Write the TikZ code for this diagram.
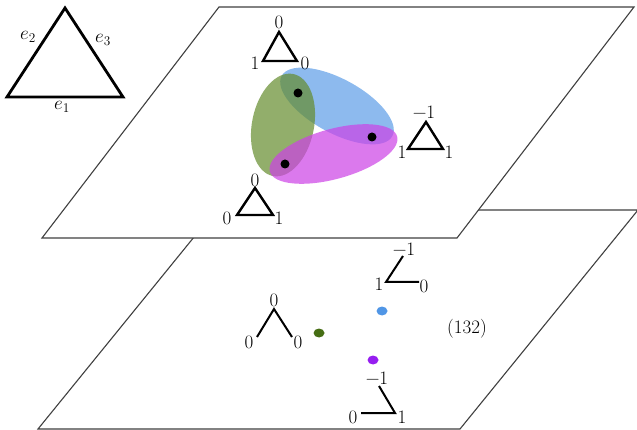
\RequirePackage{fix-cm}
\documentclass[tikz,border=0pt]{standalone}
\usepackage{fontspec}
\setmainfont{Latin Modern Roman}
\begin{document}
\begin{tikzpicture}[x=1pt,y=-1pt,
  plane/.style={draw=black!75,line width=1.1pt,fill=white},
  tri/.style={draw=black,line width=2.4pt,line join=miter},
  ang/.style={draw=black,line width=2pt},
  lbl/.style={inner sep=0pt,font=\fontsize{19}{22}\selectfont},
  dot/.style={fill=black},
]
\definecolor{gG}{RGB}{100,140,45}
\definecolor{gB}{RGB}{80,150,230}
\definecolor{gM}{RGB}{205,65,230}
\definecolor{dG}{RGB}{70,110,20}
\definecolor{dB}{RGB}{80,150,230}
\definecolor{dP}{RGB}{150,30,240}
\useasboundingbox (0,0) rectangle (637,430);

% bottom plane
\coordinate (b1) at (216,210); \coordinate (b2) at (638,210);
\coordinate (b3) at (460,429); \coordinate (b4) at (38,429);
\draw[plane] (b1) -- (b2) -- (b3) -- (b4) -- cycle;
% top plane
\coordinate (t1) at (219,7); \coordinate (t2) at (634,7);
\coordinate (t3) at (457,238); \coordinate (t4) at (42,238);
\draw[plane] (t1) -- (t2) -- (t3) -- (t4) -- cycle;

% big triangle
\coordinate (A) at (65,8); \coordinate (B) at (7,97); \coordinate (C) at (123,97);
\draw[tri,line width=2.8pt] (A) -- (B) -- (C) -- cycle;
\node[lbl] (e2) at (28,37) {$e_2$};
\node[lbl] (e3) at (103,40) {$e_3$};
\node[lbl] (e1) at (62,107) {$e_1$};

% ellipses
\fill[gB,opacity=0.65,rotate around={-28.6:(337,106)}] (337,106) ellipse [x radius=63, y radius=27];
\fill[gG,opacity=0.7,rotate around={78.7:(283,125)}] (283,125) ellipse [x radius=52, y radius=31];
\fill[gM,opacity=0.7,rotate around={15.4:(333.5,154)}] (333.5,154) ellipse [x radius=66, y radius=25];
\fill[dot] (298,93) circle (4.5);
\fill[dot] (372,137) circle (4.5);
\fill[dot] (285,164) circle (4.5);

% small triangles in top plane
\coordinate (p1) at (279,32); \coordinate (p2) at (263,61); \coordinate (p3) at (297,61);
\draw[tri] (p1) -- (p2) -- (p3) -- cycle;
\node[lbl] (p1l) at (279,22) {0};
\node[lbl] (p2l) at (255,63) {1};
\node[lbl] (p3l) at (305,63) {0};

\coordinate (q1) at (426,122); \coordinate (q2) at (408,149); \coordinate (q3) at (443,149);
\draw[tri] (q1) -- (q2) -- (q3) -- cycle;
\node[lbl] (q1l) at (424,112) {−1};
\node[lbl] (q2l) at (402,152) {1};
\node[lbl] (q3l) at (449,152) {1};

\coordinate (r1) at (255,188); \coordinate (r2) at (237,215); \coordinate (r3) at (273,215);
\draw[tri] (r1) -- (r2) -- (r3) -- cycle;
\node[lbl] (r1l) at (255,180) {0};
\node[lbl] (r2l) at (227,218) {0};
\node[lbl] (r3l) at (279,218) {1};

% bottom plane contents
\coordinate (u1) at (403,256); \coordinate (u2) at (386,282); \coordinate (u3) at (419,282);
\draw[ang] (u1) -- (u2) -- (u3);
\node[lbl] (u1l) at (404,249) {−1};
\node[lbl] (u2l) at (379,284) {1};
\node[lbl] (u3l) at (424,286) {0};

\coordinate (v1) at (257,337); \coordinate (v2) at (274,309); \coordinate (v3) at (292,337);
\draw[ang] (v1) -- (v2) -- (v3);
\node[lbl] (v2l) at (274,300) {0};
\node[lbl] (v1l) at (249,342) {0};
\node[lbl] (v3l) at (298,342) {0};

\coordinate (w1) at (379,386); \coordinate (w2) at (395,413); \coordinate (w3) at (361,413);
\draw[ang] (w1) -- (w2) -- (w3);
\node[lbl] (w1l) at (377,378) {−1};
\node[lbl] (w3l) at (353,417) {0};
\node[lbl] (w2l) at (402,417) {1};

\fill[dB] (382,311) ellipse [x radius=5.5, y radius=4.5];
\fill[dG] (319,333) ellipse [x radius=5.5, y radius=4.5];
\fill[dP] (373,360) ellipse [x radius=5.5, y radius=4.5];

\node[lbl] (perm) at (467,329) {(132)};
\end{tikzpicture}
\end{document}
